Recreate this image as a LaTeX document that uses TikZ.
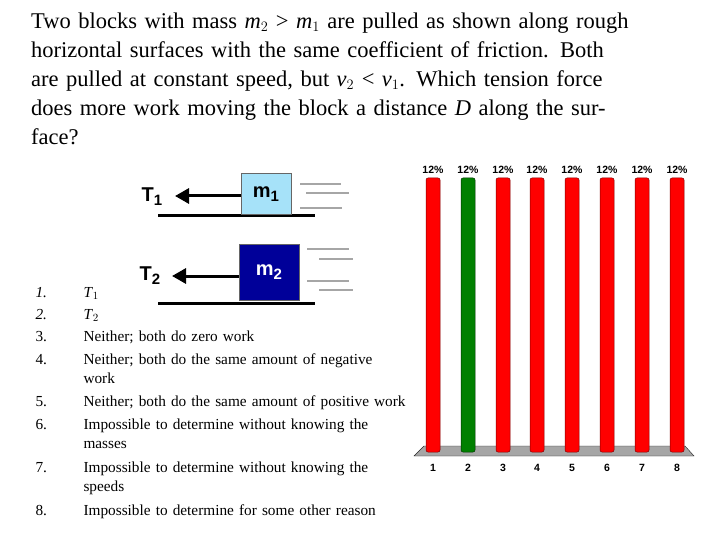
\documentclass[tikz,border=0pt]{standalone}
\usepackage{fontspec}
\usetikzlibrary{arrows.meta}
\setmainfont{Liberation Serif}
\newfontfamily\arial{Liberation Sans}
\newcommand{\lowsub}[1]{\raisebox{-4pt}{\fontsize{15}{15}\selectfont #1}}
\begin{document}
\begin{tikzpicture}[x=1pt,y=-1pt,
  bar/.style={draw=red!50!black,fill=red,rounded corners=2pt,line width=0.5pt},
  gbar/.style={draw=green!20!black,fill=green!50!black,rounded corners=2pt,line width=0.5pt},
  pct/.style={font=\arial\bfseries\fontsize{10.5}{11}\selectfont},
  item/.style={anchor=base west,font=\fontsize{15.3}{19.5}\selectfont,align=left,text width=330},
  num/.style={anchor=base west,font=\fontsize{15.3}{19.5}\selectfont},
  lbl/.style={font=\arial\bfseries\fontsize{20}{20}\selectfont},
  spd/.style={gray!70,line width=1.5pt},
  gnd/.style={line width=3pt}]
\useasboundingbox (0,0) rectangle (720,540);
\node[anchor=north west,align=left,text width=600,font=\fontsize{22.5}{28.8}\selectfont,inner sep=0] (q) at (31,13)
{\hyphenpenalty=10000 Two blocks with mass \textit{m}$_2$ > \textit{m}$_1$ are pulled as shown along rough horizontal surfaces with the same coefficient of friction. Both are pulled at constant speed, but \textit{v}$_2$ < \textit{v}$_1$. Which tension force does more work moving the block a distance \textit{D} along the surface?};
% block 1
\draw[gnd] (158,216) -- (315,216);
\node[draw=black!60,fill=cyan!35,minimum width=50,minimum height=41,lbl] (m1) at (266,194) {m\lowsub{1}};
\coordinate (a1) at (175,196);
\draw[line width=3pt,-{Triangle[length=14pt,width=15pt]}] (m1.west|-a1) -- (a1);
\node[lbl] (t1) at (152,197) {T\lowsub{1}};
\draw[spd] (300,184)--(341,184) (306,193)--(349,193) (300,208)--(342,208);
% block 2
\draw[gnd] (158,303) -- (315,303);
\node[draw=black!60,fill=blue!60!black,text=white,minimum width=60,minimum height=56,lbl] (m2) at (269,272) {m\lowsub{2}};
\coordinate (a2) at (172,276);
\draw[line width=3pt,-{Triangle[length=14pt,width=15pt]}] (m2.west|-a2) -- (a2);
\node[lbl] (t2) at (150,276) {T\lowsub{2}};
\draw[spd] (307,249)--(349,249) (319,259)--(353,259) (307,281)--(349,281) (319,290)--(353,290);
% list
\foreach \y/\n in {297/1.,319/2.}{\node[num] at (32,\y) {\textit{\n}};}
\foreach \y/\n in {341/3.,364/4.,406/5.,429/6.,472/7.,515/8.}{\node[num] at (32,\y) {\n};}
\node[item] (i1) at (80,297) {\textit{T}$_1$};
\node[item] (i2) at (80,319) {\textit{T}$_2$};
\node[item] (i3) at (80,341) {Neither; both do zero work};
\node[item,text width=300] (i4) at (80,364) {Neither; both do the same amount of negative work};
\node[item] (i5) at (80,406) {Neither; both do the same amount of positive work};
\node[item,text width=300] (i6) at (80,429) {Impossible to determine without knowing the masses};
\node[item,text width=300] (i7) at (80,472) {Impossible to determine without knowing the speeds};
\node[item] (i8) at (80,515) {Impossible to determine for some other reason};
% chart
\fill[gray!70] (424,446) -- (685,446) -- (694,456) -- (414,456) -- cycle;
\draw[gray!30!black,line width=0.4pt] (424,446) -- (685,446) -- (694,456) -- (414,456) -- cycle;
\foreach \i/\x in {1/433,2/468,3/503,4/537,5/572,6/607,7/642,8/677}{
  \ifnum\i=2 \draw[gbar] (\x-7,452) rectangle (\x+7,178);
  \else \draw[bar] (\x-7,452) rectangle (\x+7,178); \fi
  \node[pct] (p\i) at (\x,170) {12\%};
  \node[pct] (n\i) at (\x,468) {\i};
}
\end{tikzpicture}
\end{document}
